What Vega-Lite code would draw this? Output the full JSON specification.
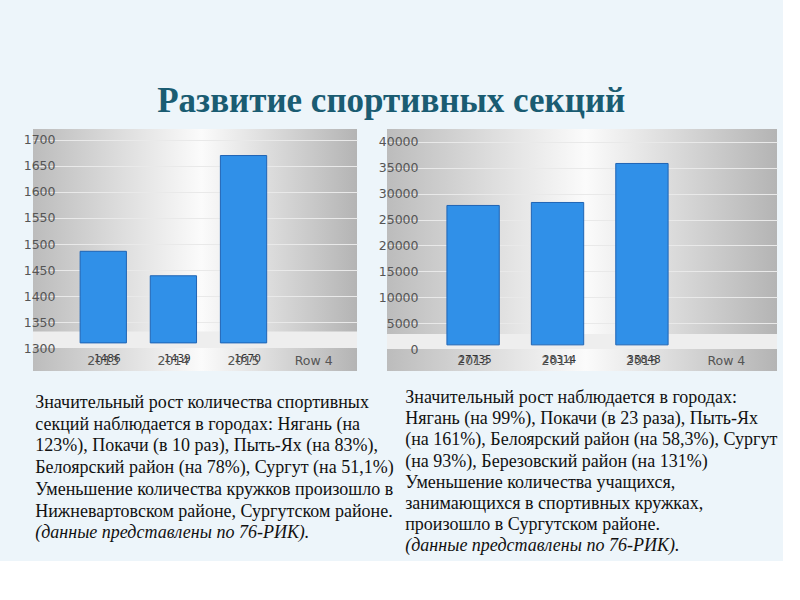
{
  "$schema": "https://vega.github.io/schema/vega-lite/v6.json",
  "background": "#edf5fa",
  "padding": {"left": 23, "top": 84, "right": 5, "bottom": 5},
  "bounds": "flush",
  "spacing": 30,
  "title": {
    "text": "Развитие спортивных секций",
    "anchor": "middle",
    "font": "Liberation Serif",
    "fontSize": 35,
    "fontWeight": "bold",
    "color": "#1a5c72",
    "dx": -9,
    "offset": 10
  },
  "datasets": {
    "sections": [
      {"year": "2013", "value": 1486},
      {"year": "2014", "value": 1439},
      {"year": "2015", "value": 1670},
      {"year": "Row 4", "value": null}
    ],
    "students": [
      {"year": "2013", "value": 27735},
      {"year": "2014", "value": 28314},
      {"year": "2015", "value": 35848},
      {"year": "Row 4", "value": null}
    ]
  },
  "hconcat": [
    {
      "width": 324,
      "height": 242,
      "view": {
        "stroke": null,
        "fill": {
          "x1": 0, "y1": 0, "x2": 1, "y2": 0,
          "gradient": "linear",
          "stops": [
            {"offset": 0, "color": "#bcbcbc"},
            {"offset": 0.52, "color": "#fbfbfb"},
            {"offset": 1, "color": "#b4b4b4"}
          ]
        }
      },
      "title": {
        "text": [
          "Значительный рост количества спортивных",
          "секций наблюдается в городах: Нягань (на",
          "123%), Покачи (в 10 раз), Пыть-Ях (на 83%),",
          "Белоярский район (на 78%), Сургут (на 51,1%)",
          "Уменьшение количества кружков произошло в",
          "Нижневартовском районе, Сургутском районе."
        ],
        "orient": "bottom",
        "anchor": "start",
        "font": "Liberation Serif",
        "fontSize": 18,
        "fontWeight": "normal",
        "color": "#111111",
        "lineHeight": 21.7,
        "offset": 23,
        "dx": 12,
        "subtitle": "(данные представлены по 76-РИК).",
        "subtitleFont": "Liberation Serif",
        "subtitleFontSize": 18,
        "subtitleFontStyle": "italic",
        "subtitleColor": "#111111",
        "subtitlePadding": 3
      },
      "data": {"name": "sections"},
      "resolve": {"axis": {"y": "independent"}},
      "encoding": {
        "x": {
          "field": "year",
          "type": "nominal",
          "sort": null,
          "scale": {"domain": ["2013", "2014", "2015", "Row 4"], "paddingInner": 0.34, "paddingOuter": 0.48, "align": 0.7},
          "axis": {"title": null, "labelAngle": 0, "domain": false, "ticks": false, "grid": false, "offset": -19, "labelPadding": 2, "labelFont": "DejaVu Sans", "labelFontSize": 12.5, "labelColor": "#555555", "zindex": 1}
        }
      },
      "layer": [
        {
          "data": {"values": [{}]},
          "mark": {"type": "rect", "color": "#eeeeee"},
          "encoding": {
            "x": null,
            "y": {"datum": 1300, "type": "quantitative", "scale": {"domain": [1256, 1721], "nice": false, "zero": false}, "axis": {"title": null, "orient": "left", "values": [1350, 1400, 1450, 1500, 1550, 1600, 1650, 1700], "labels": false, "domain": false, "ticks": false, "grid": true, "gridColor": "#e9e9e9", "zindex": 0}},
            "y2": {"datum": 1332}
          }
        },
        {
          "mark": {"type": "bar", "color": "#3090e8", "stroke": "#1f64b4", "strokeWidth": 1},
          "encoding": {
            "y": {"field": "value", "type": "quantitative", "axis": {"title": null, "orient": "left", "values": [1300, 1350, 1400, 1450, 1500, 1550, 1600, 1650, 1700], "format": "d", "grid": false, "domain": false, "ticks": false, "offset": -24, "labelPadding": 2, "labelFont": "DejaVu Sans", "labelFontSize": 12.5, "labelColor": "#555555", "zindex": 1}},
            "y2": {"datum": 1310}
          }
        },
        {
          "transform": [{"filter": "datum.value != null"}],
          "mark": {"type": "text", "font": "DejaVu Sans", "fontSize": 10.5, "color": "#333333", "baseline": "middle", "dx": 4},
          "encoding": {
            "y": {"datum": 1279, "type": "quantitative", "axis": null},
            "text": {"field": "value", "type": "quantitative", "format": "d"}
          }
        }
      ]
    },
    {
      "width": 390,
      "height": 242,
      "view": {
        "stroke": null,
        "fill": {
          "x1": 0, "y1": 0, "x2": 1, "y2": 0,
          "gradient": "linear",
          "stops": [
            {"offset": 0, "color": "#bcbcbc"},
            {"offset": 0.51, "color": "#fbfbfb"},
            {"offset": 1, "color": "#b4b4b4"}
          ]
        }
      },
      "title": {
        "text": [
          "Значительный рост наблюдается в городах:",
          "Нягань (на 99%), Покачи (в 23 раза), Пыть-Ях",
          "(на 161%), Белоярский район (на 58,3%), Сургут",
          "(на 93%), Березовский район (на 131%)",
          "Уменьшение количества учащихся,",
          "занимающихся в спортивных кружках,",
          "произошло в Сургутском  районе."
        ],
        "orient": "bottom",
        "anchor": "start",
        "font": "Liberation Serif",
        "fontSize": 18,
        "fontWeight": "normal",
        "color": "#111111",
        "lineHeight": 21.2,
        "offset": 18,
        "dx": 27,
        "subtitle": "(данные представлены по 76-РИК).",
        "subtitleFont": "Liberation Serif",
        "subtitleFontSize": 18,
        "subtitleFontStyle": "italic",
        "subtitleColor": "#111111",
        "subtitlePadding": 3
      },
      "data": {"name": "students"},
      "resolve": {"axis": {"y": "independent"}},
      "encoding": {
        "x": {
          "field": "year",
          "type": "nominal",
          "sort": null,
          "scale": {"domain": ["2013", "2014", "2015", "Row 4"], "paddingInner": 0.38, "paddingOuter": 0.5, "align": 0.71},
          "axis": {"title": null, "labelAngle": 0, "domain": false, "ticks": false, "grid": false, "offset": -19, "labelPadding": 2, "labelFont": "DejaVu Sans", "labelFontSize": 12.5, "labelColor": "#555555", "zindex": 1}
        }
      },
      "layer": [
        {
          "data": {"values": [{}]},
          "mark": {"type": "rect", "color": "#eeeeee"},
          "encoding": {
            "x": null,
            "y": {"datum": 0, "type": "quantitative", "scale": {"domain": [-4250, 42510], "nice": false, "zero": false}, "axis": {"title": null, "orient": "left", "values": [5000, 10000, 15000, 20000, 25000, 30000, 35000, 40000], "labels": false, "domain": false, "ticks": false, "grid": true, "gridColor": "#e9e9e9", "zindex": 0}},
            "y2": {"datum": 2900}
          }
        },
        {
          "mark": {"type": "bar", "color": "#3090e8", "stroke": "#1f64b4", "strokeWidth": 1},
          "encoding": {
            "y": {"field": "value", "type": "quantitative", "axis": {"title": null, "orient": "left", "values": [0, 5000, 10000, 15000, 20000, 25000, 30000, 35000, 40000], "format": "d", "grid": false, "domain": false, "ticks": false, "offset": -33, "labelPadding": 2, "labelFont": "DejaVu Sans", "labelFontSize": 12.5, "labelColor": "#555555", "zindex": 1}},
            "y2": {"datum": 800}
          }
        },
        {
          "transform": [{"filter": "datum.value != null"}],
          "mark": {"type": "text", "font": "DejaVu Sans", "fontSize": 10.5, "color": "#333333", "baseline": "middle", "dx": 2},
          "encoding": {
            "y": {"datum": -2120, "type": "quantitative", "axis": null},
            "text": {"field": "value", "type": "quantitative", "format": "d"}
          }
        }
      ]
    }
  ],
  "config": {
    "view": {"stroke": null}
  }
}
